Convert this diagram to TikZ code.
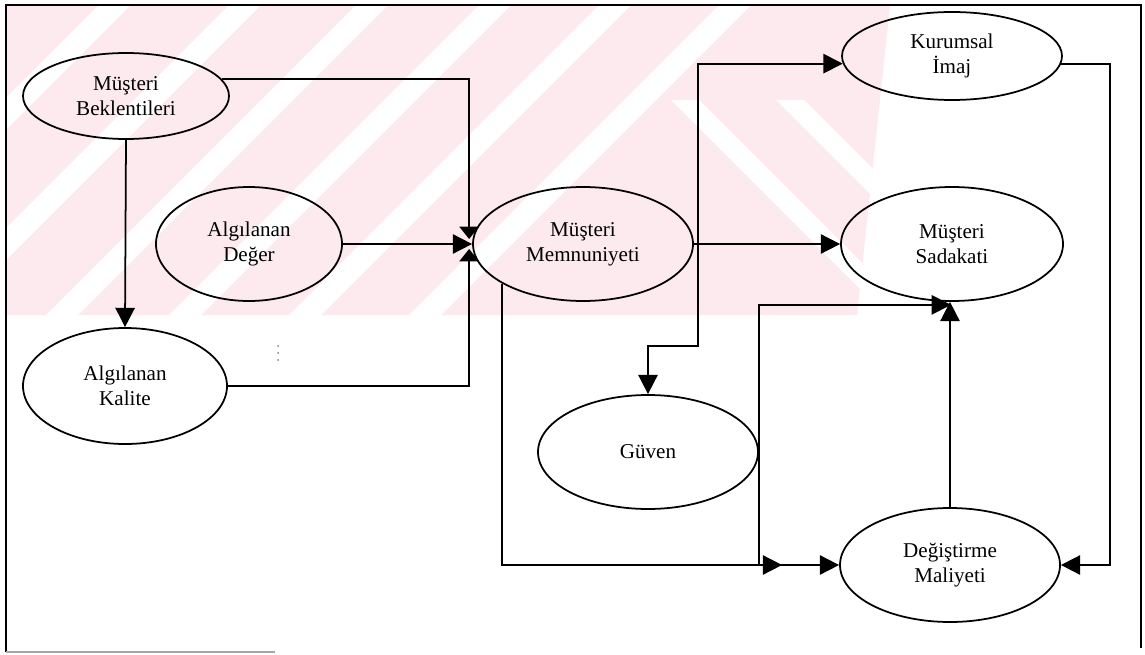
\documentclass[tikz,border=0pt]{standalone}
\usepackage{fontspec}
\setmainfont{Liberation Serif}
\usetikzlibrary{arrows.meta,shapes.geometric,calc}
\definecolor{wmpink}{RGB}{252,234,238}
\begin{document}
\begin{tikzpicture}[x=0.02cm,y=-0.02cm,
  ell/.style 2 args={ellipse,draw,line width=1pt,
    minimum width=#1*0.02cm,minimum height=#2*0.02cm,
    inner sep=0pt,align=center,font=\fontsize{12}{14}\selectfont},
  link/.style={line width=1pt},
  arr/.style={link,-{Triangle[length=11pt,width=11pt]}},
  arrs/.style={link,-{Triangle[length=7pt,width=11pt]}},
  frameline/.style={line width=1pt}]
\useasboundingbox (0,0) rectangle (1145,655);

% faint striped background band
\begin{scope}
  \clip (6,6) -- (890,6) -- (857,315) -- (6,315) -- cycle;
  \fill[wmpink] (0,0) rectangle (1145,320);
  \foreach \c in {120,250,377,500,620,740}
    \fill[white] (\c-16,0) -- (\c+16,0) -- (\c+16-330,330) -- (\c-16-330,330) -- cycle;
  \foreach \c in {585,690}
    \fill[white] (\c+100-14,100) -- (\c+100+14,100) -- (\c+330+14,330) -- (\c+330-14,330) -- cycle;
\end{scope}

% frame
\draw[frameline] (6,652) -- (6,5) -- (1141,5) -- (1141,648);
\draw[line width=0.8pt,gray!70] (6,652) -- (275,652);

% nodes
\node[ell={206}{86}]  (MB) at (126,96)  {Müşteri\\Beklentileri};
\node[ell={186}{114}] (AD) at (249,244) {Algılanan\\Değer};
\node[ell={204}{116}] (AK) at (125,386) {Algılanan\\Kalite};
\node[ell={220}{114}] (MM) at (583,244) {Müşteri\\Memnuniyeti};
\node[ell={220}{88}]  (KI) at (952,56)  {Kurumsal\\İmaj};
\node[ell={222}{114}] (MS) at (952,244) {Müşteri\\Sadakati};
\node[ell={220}{114}] (GV) at (648,452) {Güven};
\node[ell={220}{114}] (DM) at (950,565) {Değiştirme\\Maliyeti};

% stray marks
\foreach \yy in {346,353,360} \fill[gray] (278,\yy) circle (1);

% connectors
\draw[arr] (MB.south) -- (AK.north);
\draw[arrs] (MB.10) -| ($(MM.west)+(-3,-5)$);
\draw[arr] (AD.east) -- (MM.west);
\draw[arrs] (AK.east) -| ($(MM.west)+(-3,5)$);

\coordinate (j) at ($(MM.east)+(4,0)$);
\draw[arr] (MM.east) -- (MS.west);
\draw[arr] (j) |- (KI.184);
\draw[arr] (j) -- ++(0,102) -| (GV.north);

\coordinate (m1) at ($(DM.west)+(-57,0)$);
\draw[arr] (MM.206) |- (m1);
\draw[arr] (GV.east) |- (DM.west);
\draw[arr] (GV.east) |- ($(MS.south)+(-1,3)$);
\draw[arr] (DM.north) -- (DM.north |- MS.south);

\draw[arr] (KI.356) -| ($(DM.east)+(49,0)$) -- (DM.east);
\end{tikzpicture}
\end{document}
